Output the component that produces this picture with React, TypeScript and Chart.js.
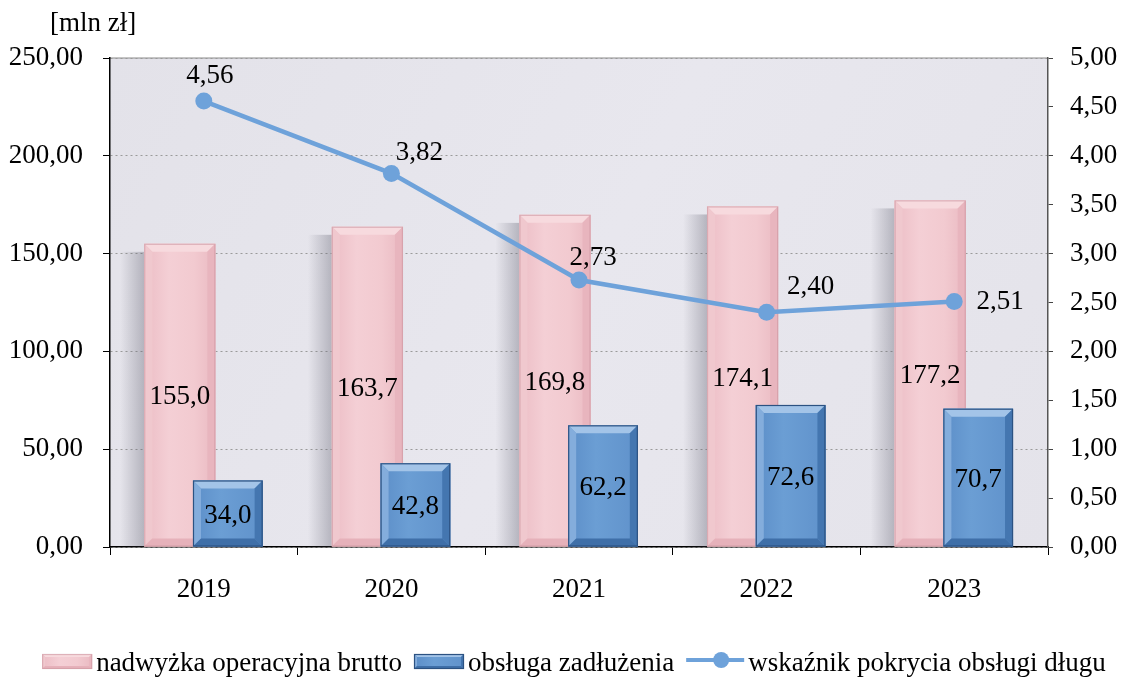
import React, { useEffect, useRef } from 'react';
import { Chart, registerables } from 'chart.js';
Chart.register(...registerables);

const years = ['2019', '2020', '2021', '2022', '2023'];
const surplus = [155.0, 163.7, 169.8, 174.1, 177.2];
const debtService = [34.0, 42.8, 62.2, 72.6, 70.7];
const coverage = [4.56, 3.82, 2.73, 2.4, 2.51];
const seriesNames = ['nadwyżka operacyjna brutto', 'obsługa zadłużenia', 'wskaźnik pokrycia obsługi długu'];
const unitLabel = '[mln zł]';

// label offsets (style, not data) for the coverage line value labels
const lineLabelOffsets = [[6, -25], [28, -20], [14, -22], [44, -25], [46, 0]];

const FONT = '"Liberation Serif", "Times New Roman", serif';
const FS = 27;
const fmt = (v: number, d: number) => v.toFixed(d).replace('.', ',');

const PINK = 0, BLUE = 1;

const pinkPal = {
  body: [[0, '#ecbdc5'], [0.35, '#f4cfd5'], [0.7, '#f2cad0'], [1, '#eabac2']],
  top: '#f7dade', left: '#f0c8ce', right: '#e8b5be', bottom: '#e6b1ba', outline: 'rgba(205,150,160,0.6)',
};
const bluePal = {
  body: [[0, '#5c8ec8'], [0.4, '#6b9ed4'], [1, '#6092cb']],
  top: '#a3c4e8', left: '#84addc', right: '#4476b0', bottom: '#3f6fa8', outline: '#2c5282',
};
const lineColor = '#6ea2da';

function bevel(ctx: CanvasRenderingContext2D, left: number, top: number, right: number, bottom: number, b: number, pal: any) {
  const g = ctx.createLinearGradient(left, 0, right, 0);
  pal.body.forEach(([s, c]: any) => g.addColorStop(s, c));
  ctx.fillStyle = g;
  ctx.fillRect(left, top, right - left, bottom - top);
  const poly = (pts: number[][], c: string) => {
    ctx.beginPath();
    ctx.moveTo(pts[0][0], pts[0][1]);
    for (let i = 1; i < pts.length; i++) ctx.lineTo(pts[i][0], pts[i][1]);
    ctx.closePath();
    ctx.fillStyle = c;
    ctx.fill();
  };
  poly([[left, top], [right, top], [right - b, top + b], [left + b, top + b]], pal.top);
  poly([[left, top], [left + b, top + b], [left + b, bottom - b], [left, bottom]], pal.left);
  poly([[right, top], [right, bottom], [right - b, bottom - b], [right - b, top + b]], pal.right);
  poly([[left, bottom], [left + b, bottom - b], [right - b, bottom - b], [right, bottom]], pal.bottom);
  ctx.strokeStyle = pal.outline;
  ctx.lineWidth = 1.2;
  ctx.strokeRect(left + 0.5, top + 0.5, right - left - 1, bottom - top - 1);
}

function bevelBars(chart: any, index: number, pal: any) {
  const ctx = chart.ctx;
  const meta = chart.getDatasetMeta(index);
  ctx.save();
  meta.data.forEach((el: any) => {
    const p = el.getProps(['x', 'y', 'base', 'width'], true);
    bevel(ctx, p.x - p.width / 2, p.y, p.x + p.width / 2, p.base, 8, pal);
  });
  ctx.restore();
}

const decor = {
  id: 'decor',
  beforeDraw(chart: any) {
    const { ctx, chartArea: a } = chart;
    ctx.save();
    ctx.fillStyle = '#ffffff';
    ctx.fillRect(0, 0, chart.width, chart.height);
    const g = ctx.createLinearGradient(a.left, a.top, a.right, a.bottom);
    g.addColorStop(0, '#e3e2e9');
    g.addColorStop(0.5, '#e8e7ee');
    g.addColorStop(1, '#e4e3ea');
    ctx.fillStyle = g;
    ctx.fillRect(a.left, a.top, a.right - a.left, a.bottom - a.top);
    ctx.strokeStyle = '#8c8c8c';
    ctx.lineWidth = 1.2;
    ctx.beginPath();
    ctx.moveTo(a.left, a.top);
    ctx.lineTo(a.right, a.top);
    ctx.stroke();
    ctx.restore();
  },
  beforeDatasetDraw(chart: any, args: any) {
    if (args.index === PINK) return false;
    if (args.index === BLUE) {
      const ctx = chart.ctx;
      const meta = chart.getDatasetMeta(PINK);
      ctx.save();
      meta.data.forEach((el: any) => {
        const p = el.getProps(['x', 'y', 'base', 'width'], true);
        const left = p.x - p.width / 2;
        const g = ctx.createLinearGradient(left - 24, 0, left, 0);
        g.addColorStop(0, 'rgba(100,100,115,0)');
        g.addColorStop(1, 'rgba(100,100,115,0.38)');
        ctx.fillStyle = g;
        ctx.fillRect(left - 24, p.y + 8, 24, p.base - p.y - 8);
      });
      ctx.restore();
      meta.controller.draw();
      bevelBars(chart, PINK, pinkPal);
    }
    return true;
  },
  afterDatasetDraw(chart: any, args: any) {
    if (args.index === BLUE) bevelBars(chart, BLUE, bluePal);
  },
  afterDatasetsDraw(chart: any) {
    const ctx = chart.ctx;
    ctx.save();
    ctx.font = `${FS}px ${FONT}`;
    ctx.fillStyle = '#000';
    ctx.textAlign = 'center';
    ctx.textBaseline = 'middle';
    [PINK, BLUE].forEach((di) => {
      const meta = chart.getDatasetMeta(di);
      const vals = chart.data.datasets[di].data;
      meta.data.forEach((el: any, i: number) => {
        const p = el.getProps(['x', 'y', 'base'], true);
        ctx.fillText(fmt(vals[i], 1), p.x, (p.y + p.base) / 2 + 2);
      });
    });
    const lm = chart.getDatasetMeta(2);
    lm.data.forEach((el: any, i: number) => {
      const p = el.getProps(['x', 'y'], true);
      const o = lineLabelOffsets[i];
      ctx.fillText(fmt(coverage[i], 2), p.x + o[0], p.y + o[1]);
    });
    ctx.restore();
  },
  afterDraw(chart: any) {
    const ctx = chart.ctx;
    ctx.save();
    ctx.font = `${FS}px ${FONT}`;
    ctx.fillStyle = '#000';
    ctx.textBaseline = 'alphabetic';
    ctx.textAlign = 'left';
    ctx.fillText(unitLabel, 50, 31);

    // legend
    const iconW = [50, 50, 58];
    const gapIT = 4, gapItems = 12;
    const tw = seriesNames.map((s) => ctx.measureText(s).width);
    let total = 0;
    for (let i = 0; i < 3; i++) total += iconW[i] + gapIT + tw[i] + (i < 2 ? gapItems : 0);
    let x = chart.width / 2 + 12 - total / 2;
    const cy = 662;
    for (let i = 0; i < 3; i++) {
      if (i < 2) {
        bevel(ctx, x, cy - 8, x + iconW[i], cy + 7, 3, i === 0 ? pinkPal : bluePal);
      } else {
        ctx.strokeStyle = lineColor;
        ctx.lineWidth = 4;
        ctx.beginPath();
        ctx.moveTo(x, cy - 2);
        ctx.lineTo(x + iconW[i], cy - 2);
        ctx.stroke();
        ctx.fillStyle = lineColor;
        ctx.beginPath();
        ctx.arc(x + iconW[i] / 2 + 6, cy - 2, 8, 0, Math.PI * 2);
        ctx.fill();
      }
      x += iconW[i] + gapIT;
      ctx.fillStyle = '#000';
      ctx.fillText(seriesNames[i], x, 671);
      x += tw[i] + gapItems;
    }
    ctx.restore();
  },
};

export default function App() {
  const ref = useRef<HTMLCanvasElement>(null);
  useEffect(() => {
    document.body.style.margin = '0';
    const canvas = ref.current!;
    const tickFont = { family: FONT, size: FS };
    const chart = new Chart(canvas, {
      type: 'bar',
      data: {
        labels: years,
        datasets: [
          { type: 'bar', label: seriesNames[0], data: surplus, yAxisID: 'y', backgroundColor: '#efc3ca', categoryPercentage: 0.512, barPercentage: 1.48, order: 0 },
          { type: 'bar', label: seriesNames[1], data: debtService, yAxisID: 'y', backgroundColor: '#6497cf', categoryPercentage: 0.512, barPercentage: 1.45, order: 0 },
          { type: 'line', label: seriesNames[2], data: coverage, yAxisID: 'y1', borderColor: lineColor, backgroundColor: lineColor, borderWidth: 4.5, pointRadius: 8.5, pointBackgroundColor: lineColor, pointBorderWidth: 0, tension: 0, order: -1 },
        ] as any,
      },
      options: {
        responsive: false,
        animation: false,
        devicePixelRatio: 1,
        layout: { padding: { top: 58, left: 0, right: 0, bottom: 0 } },
        plugins: { legend: { display: false }, tooltip: { enabled: false } },
        scales: {
          x: {
            offset: true,
            grid: { offset: true, drawOnChartArea: false, color: '#000', tickColor: '#000', tickLength: 8 },
            border: { color: '#000', width: 1.5 },
            ticks: { font: tickFont, color: '#000', padding: 19, maxRotation: 0 },
            afterFit: (s: any) => { s.height = 132; },
          },
          y: {
            position: 'left',
            min: 0,
            max: 250,
            ticks: { stepSize: 50, callback: (v: any) => fmt(Number(v), 2), font: tickFont, color: '#000', padding: 20 },
            grid: { color: '#9a9a9a', lineWidth: 1, tickColor: '#000', tickLength: 7 },
            border: { color: '#000', width: 1.5, dash: [2, 3] },
            afterFit: (s: any) => { s.width = 110; },
          },
          y1: {
            position: 'right',
            min: 0,
            max: 5,
            ticks: { stepSize: 0.5, callback: (v: any) => fmt(Number(v), 2), font: tickFont, color: '#000', padding: 17 },
            grid: { drawOnChartArea: false, tickColor: '#444', tickLength: 5 },
            border: { color: '#555', width: 1.5 },
            afterFit: (s: any) => { s.width = 76; },
          },
        },
      } as any,
      plugins: [decor],
    });
    return () => chart.destroy();
  }, []);
  return (
    <div style={{ width: 1124, height: 679 }}>
      <canvas ref={ref} width={1124} height={679} />
    </div>
  );
}
